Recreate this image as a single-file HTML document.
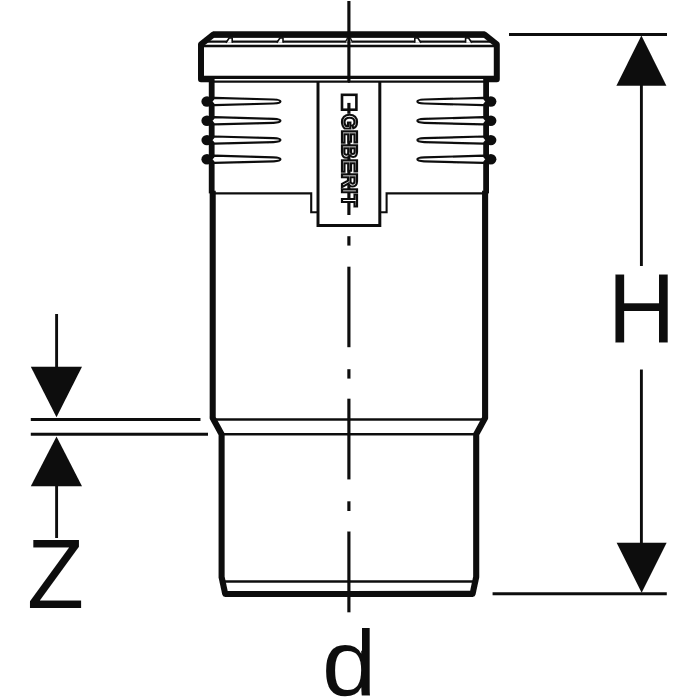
<!DOCTYPE html>
<html><head><meta charset="utf-8"><title>Drawing</title>
<style>
html,body{margin:0;padding:0;background:#fff;}
svg{display:block;}
text{font-family:"Liberation Sans",sans-serif;}
</style></head><body>
<svg width="700" height="700" viewBox="0 0 700 700">
<rect x="0" y="0" width="700" height="700" fill="#fff"/>
<defs><filter id="soft" x="0" y="0" width="700" height="700" filterUnits="userSpaceOnUse"><feGaussianBlur stdDeviation="0.35"/></filter><filter id="gray" x="-10%" y="-10%" width="120%" height="120%"><feOffset dx="0" dy="0"/></filter><g id="half">
<!-- cap outline left -->
<path d="M349.9,34.6 L213.2,34.6 L201,44.4 L201,79.3 L211,79.3" fill="none" stroke="#111" stroke-width="6" stroke-linejoin="round"/>
<line x1="213" y1="34.6" x2="349.9" y2="34.6" stroke="#111" stroke-width="6.3"/>
<line x1="206" y1="41.6" x2="349.9" y2="41.6" stroke="#111" stroke-width="2.3"/>
<line x1="202" y1="46" x2="349.9" y2="46" stroke="#111" stroke-width="2.3"/>
<line x1="202" y1="77.4" x2="349.9" y2="77.4" stroke="#111" stroke-width="3.1"/>
<line x1="211" y1="81.65" x2="349.9" y2="81.65" stroke="#111" stroke-width="2.1"/>
<path d="M226,42.8 L229.2,38 L232.2,38 L232.2,42.8" fill="#fff" stroke="#111" stroke-width="1.6" stroke-linejoin="round"/>
<path d="M276.8,42.8 L280.0,38 L283.0,38 L283.0,42.8" fill="#fff" stroke="#111" stroke-width="1.6" stroke-linejoin="round"/>
<!-- wall -->
<path d="M211.7,79 L211.7,193.4" fill="none" stroke="#111" stroke-width="5.8"/>
<path d="M212.7,190.7 L212.7,418 L221.6,434.3 L221.6,577 L225.2,593.9 L349.9,594" fill="none" stroke="#111" stroke-width="6.1" stroke-linejoin="round"/>
<!-- step lines -->
<path d="M213,193.4 L311.2,193.4 L311.2,212.3 L318,212.3" fill="none" stroke="#111" stroke-width="2.1"/>
<line x1="214" y1="419.4" x2="349.9" y2="419.4" stroke="#111" stroke-width="2.5"/>
<line x1="222" y1="434.3" x2="349.9" y2="434.3" stroke="#111" stroke-width="2.5"/>
<line x1="223" y1="581.4" x2="349.9" y2="581.4" stroke="#111" stroke-width="2.5"/>
<!-- label box left edge -->
<path d="M318,81.65 L318,225.4 L349.9,225.4" fill="none" stroke="#111" stroke-width="3"/>
<ellipse cx="207" cy="101.5" rx="5.6" ry="5.2" fill="#111"/>
<path d="M211.2,101.5 L214.2,97.9 L273.5,99.5 Q280.4,99.7 280.4,101.5 Q280.4,103.3 273.5,103.5 L214.2,105.1 Z" fill="#fff" stroke="#111" stroke-width="2.2" stroke-linejoin="round"/>
<ellipse cx="207" cy="120.8" rx="5.6" ry="5.2" fill="#111"/>
<path d="M211.2,120.8 L214.2,117.2 L273.5,118.8 Q280.4,119.0 280.4,120.8 Q280.4,122.6 273.5,122.8 L214.2,124.39999999999999 Z" fill="#fff" stroke="#111" stroke-width="2.2" stroke-linejoin="round"/>
<ellipse cx="207" cy="140.1" rx="5.6" ry="5.2" fill="#111"/>
<path d="M211.2,140.1 L214.2,136.5 L273.5,138.1 Q280.4,138.29999999999998 280.4,140.1 Q280.4,141.9 273.5,142.1 L214.2,143.7 Z" fill="#fff" stroke="#111" stroke-width="2.2" stroke-linejoin="round"/>
<ellipse cx="207" cy="159.3" rx="5.6" ry="5.2" fill="#111"/>
<path d="M211.2,159.3 L214.2,155.70000000000002 L273.5,157.3 Q280.4,157.5 280.4,159.3 Q280.4,161.10000000000002 273.5,161.3 L214.2,162.9 Z" fill="#fff" stroke="#111" stroke-width="2.2" stroke-linejoin="round"/></g></defs>
<g filter="url(#soft)">
<use href="#half"/>
<use href="#half" transform="translate(697.8,0) scale(-1,1)"/>
<!-- centre notch -->
<path d="M345.29999999999995,42.6 L347.4,38 L350.4,38 L352.5,42.6" fill="#fff" stroke="#111" stroke-width="1.3" stroke-linejoin="round"/>
<!-- centre line -->
<line x1="348.9" y1="1" x2="348.9" y2="82" stroke="#111" stroke-width="3.2"/>
<line x1="348.9" y1="102.9" x2="348.9" y2="113.8" stroke="#111" stroke-width="3.2"/>
<line x1="348.9" y1="134.7" x2="348.9" y2="215" stroke="#111" stroke-width="3.2"/>
<line x1="348.9" y1="236.2" x2="348.9" y2="245.6" stroke="#111" stroke-width="3.2"/>
<line x1="348.9" y1="266.7" x2="348.9" y2="347.2" stroke="#111" stroke-width="3.2"/>
<line x1="348.9" y1="369.2" x2="348.9" y2="378.6" stroke="#111" stroke-width="3.2"/>
<line x1="348.9" y1="398.7" x2="348.9" y2="479.4" stroke="#111" stroke-width="3.2"/>
<line x1="348.9" y1="501.3" x2="348.9" y2="511" stroke="#111" stroke-width="3.2"/>
<line x1="348.9" y1="531.5" x2="348.9" y2="612.3" stroke="#111" stroke-width="3.2"/>
<!-- logo -->
<rect x="342" y="94.8" width="14.4" height="14.9" fill="none" stroke="#111" stroke-width="2.6"/>
<g filter="url(#gray)"><text transform="translate(341.7,113.9) rotate(90) scale(0.94,1)" x="0" y="0" font-size="21.6" font-weight="bold" fill="#fff" stroke="#111" stroke-width="2.2" textLength="98.6" lengthAdjust="spacing">GEBERIT</text></g>
<!-- H dimension -->
<line x1="509" y1="34.6" x2="667" y2="34.6" stroke="#111" stroke-width="3"/>
<line x1="492.6" y1="593.8" x2="666.8" y2="593.8" stroke="#111" stroke-width="3"/>
<line x1="641.4" y1="80" x2="641.4" y2="266" stroke="#111" stroke-width="2.9"/>
<line x1="641.4" y1="369.5" x2="641.4" y2="545" stroke="#111" stroke-width="2.9"/>
<polygon points="641.4,35.5 666.4,85.8 616.4,85.8" fill="#111"/>
<polygon points="641.6,592.8 616.6,542.8 666.6,542.8" fill="#111"/>
<text transform="translate(607.8,341.7) scale(0.998,1.042)" x="0" y="0" font-size="93.8" fill="#111">H</text>
<!-- Z dimension -->
<line x1="30.8" y1="419.4" x2="200.5" y2="419.4" stroke="#111" stroke-width="3"/>
<line x1="30.8" y1="434.2" x2="208" y2="434.2" stroke="#111" stroke-width="3"/>
<line x1="56.6" y1="314" x2="56.6" y2="370" stroke="#111" stroke-width="2.9"/>
<line x1="56.6" y1="484" x2="56.6" y2="538" stroke="#111" stroke-width="2.9"/>
<polygon points="56.5,417.2 30.8,366.8 82,366.8" fill="#111"/>
<polygon points="56.5,436.4 30.8,486.2 82,486.2" fill="#111"/>
<text transform="translate(26.9,608.3) scale(0.995,1.043)" x="0" y="0" font-size="93.8" fill="#111">Z</text>
<!-- d -->
<text transform="translate(322.0,695) scale(1.041,0.988)" x="0" y="0" font-size="93.8" fill="#111">d</text>
<polygon points="357,625 362,625 362,651 357,648.5" fill="#fff"/>
</g>
</svg>
</body></html>
